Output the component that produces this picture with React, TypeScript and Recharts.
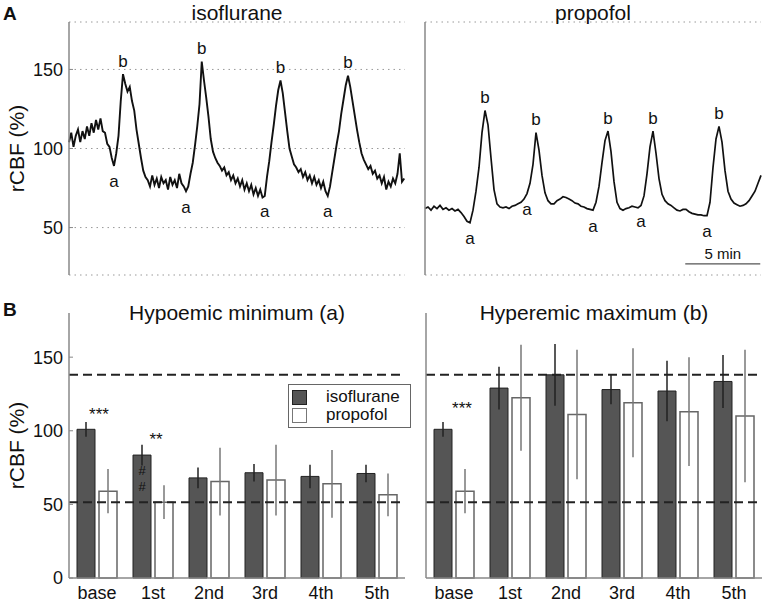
import React from "react";
import {
  LineChart, Line, XAxis, YAxis, CartesianGrid, ReferenceDot, ReferenceLine,
  BarChart, Bar, ErrorBar, Legend,
} from "recharts";

const FONT = "'Liberation Sans', Arial, Helvetica, sans-serif";

// ---- panel A: rCBF traces (one sample every step minutes) ----
const isoStep = 0.15;
const isoTrace = [
  104, 110, 101, 108, 112, 104, 111, 106, 114, 108, 116, 110, 118, 112, 119, 111, 110, 103, 101, 94, 89,
  97, 108, 130, 147, 141, 136, 139, 130, 124, 112, 103, 94, 86, 82,
  80, 76, 83, 77, 81, 75, 82, 78, 80, 74, 82, 77, 80, 75, 84, 78, 76, 73,
  76, 84, 91, 102, 114, 128,
  155, 143, 132, 120, 106, 98, 94, 91, 89, 86, 88, 83, 85, 80, 83, 78, 81, 76, 80, 74, 78, 73, 77, 71, 75, 70, 74, 69,
  70, 82, 92, 104, 115, 127, 137, 143,
  135, 123, 111, 100, 95, 90, 88, 85, 87, 82, 85, 80, 83, 78, 82, 77, 80, 75, 79, 73, 70, 76,
  85, 94, 103, 111, 122, 131, 140, 146,
  139, 130, 121, 112, 104, 97, 93, 90, 87, 89, 84, 86, 81, 83, 78, 82, 74, 79, 76, 81, 78, 84, 97, 79, 81,
];
const isoPeaks = [24, 59, 94, 124];
const isoTroughs = [20, 52, 87, 115];

const propStep = 0.2;
const propTrace = [
  62, 63, 61, 63.5, 62, 64, 61.5, 62.5, 61, 62, 60.5, 61.5, 59.5, 57, 54, 53,
  61, 73, 88, 110, 124, 115, 94, 74, 65,
  63, 62.5, 63, 62, 63.5, 64, 65, 66, 68, 71.5, 78, 90,
  110, 99, 83, 72, 67, 65, 65, 67, 68, 69.5, 69, 68, 67, 65.5, 65, 63.5, 63, 62, 61.5, 61,
  66, 76, 91, 105, 111, 98, 79, 66, 62, 61, 62, 62.5, 63.5, 63, 62.5, 64,
  70, 84, 101, 111, 97, 81, 71, 67, 65, 64, 62.5, 61, 60.5, 61.5, 61.5, 60, 59, 58.5, 58, 58, 57.5, 57.5,
  66, 88, 106, 114, 104, 86, 73, 68, 65.5, 64.5, 63.5, 64, 65, 67, 70, 73, 78, 83,
];
const propPeaks = [20, 37, 61, 76, 98];
const propTroughs = [15, 34, 56, 72, 94];

const traceTicks = [50, 100, 150];
const scaleBarStart = 17.35; // min
const scaleBarMinutes = 5;
const scaleBarLevel = 27;

// ---- panel B: mean rCBF ± SD ----
const phases = ["base", "1st", "2nd", "3rd", "4th", "5th"];
const minIso = [101, 83.5, 68, 71.5, 69, 71];
const minIsoErr = [5, 7, 7, 6, 8, 6];
const minProp = [59, 51.5, 65.5, 66.5, 64, 56.5];
const minPropErr = [15, 11.5, 23, 24, 23, 14.5];
const maxIso = [101, 129, 138, 128, 127, 133.5];
const maxIsoErr = [5, 14.5, 21, 10, 20.5, 18];
const maxProp = [59, 122.5, 111, 119, 113, 110];
const maxPropErr = [15, 36, 44, 37, 37, 45];
const barTicks = [0, 50, 100, 150];
const refLevels = [138, 51.5];

const toSeries = (vals: number[], step: number) =>
  vals.map((v, i) => ({ t: Math.round(i * step * 100) / 100, v }));

const isoData = toSeries(isoTrace, isoStep);
const propData = toSeries(propTrace, propStep);

const minData = phases.map((p, i) => ({ phase: p, iso: minIso[i], isoErr: minIsoErr[i], prop: minProp[i], propErr: minPropErr[i] }));
const maxData = phases.map((p, i) => ({ phase: p, iso: maxIso[i], isoErr: maxIsoErr[i], prop: maxProp[i], propErr: maxPropErr[i] }));

function textAt(text: string, dy: number, dx = 0, size = 17) {
  return (props: any) => {
    const vb = props.viewBox || {};
    const x = (vb.x ?? 0) + (vb.width ?? 0) / 2 + dx;
    const y = (vb.y ?? 0) + (vb.height ?? 0) / 2 + dy;
    return (
      <text x={x} y={y} textAnchor="middle" dominantBaseline="central" fontSize={size} fontFamily={FONT} fill="#111">
        {text}
      </text>
    );
  };
}

const yTitle = (props: any) => {
  const vb = props.viewBox || {};
  const cy = (vb.y ?? 0) + (vb.height ?? 0) / 2;
  return (
    <text transform={`translate(16,${cy}) rotate(-90)`} textAnchor="middle" dominantBaseline="central" fontSize={21} fontFamily={FONT} fill="#111">
      rCBF (%)
    </text>
  );
};

const axisStroke = { stroke: "#888", strokeWidth: 1.5 };

function TraceChart({ data, peaks, troughs, first }: any) {
  return (
    <LineChart
      width={first ? 410 : 355}
      height={290}
      data={data}
      margin={{ top: 22, right: first ? 5 : 4, bottom: 15, left: 0 }}
    >
      <CartesianGrid horizontal vertical={false} stroke="#999" strokeDasharray="1.5 4" />
      <XAxis dataKey="t" type="number" domain={[0, 22.4]} hide />
      <YAxis
        type="number"
        domain={[20, 180]}
        ticks={traceTicks}
        width={first ? 69 : 15}
        axisLine={axisStroke}
        tickLine={{ stroke: "#888" }}
        tickSize={-4}
        tickMargin={10}
        tick={first ? { fontSize: 18, fill: "#111", fontFamily: FONT } : false}
        label={first ? yTitle : undefined}
      />
      <Line type="linear" dataKey="v" stroke="#111" strokeWidth={first ? 1.9 : 1.7} dot={false} isAnimationActive={false} />
      {peaks.map((i: number) => (
        <ReferenceDot key={"b" + i} x={data[i].t} y={data[i].v} r={0} fill="none" stroke="none" label={textAt("b", -13)} />
      ))}
      {troughs.map((i: number) => (
        <ReferenceDot key={"a" + i} x={data[i].t} y={data[i].v} r={0} fill="none" stroke="none" label={textAt("a", 16)} />
      ))}
      {!first && (
        <ReferenceLine
          segment={[{ x: scaleBarStart, y: scaleBarLevel }, { x: scaleBarStart + scaleBarMinutes, y: scaleBarLevel }]}
          stroke="#555"
          strokeWidth={1.3}
        />
      )}
      {!first && (
        <ReferenceDot
          x={scaleBarStart + scaleBarMinutes / 2}
          y={scaleBarLevel}
          r={0}
          fill="none"
          stroke="none"
          label={textAt("5 min", -10, 0, 15)}
        />
      )}
    </LineChart>
  );
}

const LegendBox = (props: any) => {
  const items = props.payload || [];
  return (
    <div style={{ border: "1.5px solid #666", background: "#fff", width: 118, padding: "3px 0 3px 3px", fontFamily: FONT, fontSize: 17, color: "#111", textAlign: "left" }}>
      {items.map((it: any, k: number) => (
        <div key={k} style={{ display: "flex", alignItems: "center", height: 18 }}>
          <span style={{ width: 13, height: 13, background: k === 0 ? "#555" : "#fff", border: `1.3px solid ${k === 0 ? "#222" : "#777"}`, display: "inline-block" }} />
          <span style={{ marginLeft: 19, lineHeight: "18px" }}>{it.value}</span>
        </div>
      ))}
    </div>
  );
};

function BarPanel({ data, first }: any) {
  return (
    <BarChart
      width={first ? 410 : 355}
      height={313}
      data={data}
      margin={{ top: 23, right: first ? 5 : 3, bottom: 0, left: 0 }}
      barGap={4}
      barCategoryGap={8}
    >
      <XAxis
        dataKey="phase"
        height={25}
        axisLine={axisStroke}
        tickLine={false}
        tick={{ fontSize: 18, fill: "#111", fontFamily: FONT }}
      />
      <YAxis
        type="number"
        domain={[0, 180]}
        ticks={barTicks}
        width={first ? 69 : 16}
        axisLine={axisStroke}
        tickLine={{ stroke: "#888" }}
        tickSize={-4}
        tickMargin={10}
        tick={first ? { fontSize: 18, fill: "#111", fontFamily: FONT } : false}
        label={first ? yTitle : undefined}
      />
      <Bar dataKey="iso" name="isoflurane" fill="#555" stroke="#222" strokeWidth={1} barSize={18} isAnimationActive={false}>
        <ErrorBar dataKey="isoErr" width={0} stroke="#222" strokeWidth={1.5} direction="y" />
      </Bar>
      <Bar dataKey="prop" name="propofol" fill="#fff" stroke="#666" strokeWidth={1.5} barSize={18} isAnimationActive={false}>
        <ErrorBar dataKey="propErr" width={0} stroke="#777" strokeWidth={1.5} direction="y" />
      </Bar>
      {refLevels.map((y) => (
        <ReferenceLine key={y} y={y} stroke="#222" strokeWidth={2} strokeDasharray="9 5" />
      ))}
      {first ? (
        <>
          <ReferenceDot x="base" y={114} r={0} fill="none" stroke="none" label={textAt("***", 4, 2, 17)} />
          <ReferenceDot x="1st" y={97} r={0} fill="none" stroke="none" label={textAt("**", 4, 3, 17)} />
          <ReferenceDot x="1st" y={73} r={0} fill="none" stroke="none" label={textAt("#", 0, -11, 13)} />
          <ReferenceDot x="1st" y={62} r={0} fill="none" stroke="none" label={textAt("#", 0, -11, 13)} />
          <Legend
            layout="horizontal"
            verticalAlign="middle"
            align="center"
            content={LegendBox}
            wrapperStyle={{ position: "absolute", left: 288, top: 94, width: "auto", height: "auto" }}
          />
        </>
      ) : (
        <ReferenceDot x="base" y={117.6} r={0} fill="none" stroke="none" label={textAt("***", 4, 8, 17)} />
      )}
    </BarChart>
  );
}

const abs = (left: number, top: number): React.CSSProperties => ({ position: "absolute", left, top });

export default function App() {
  const title: React.CSSProperties = { fontFamily: FONT, fontSize: 21, color: "#111", textAlign: "center", lineHeight: "24px", whiteSpace: "nowrap" };
  const letter: React.CSSProperties = { fontFamily: FONT, fontSize: 19, fontWeight: "bold", color: "#111", lineHeight: "22px" };
  return (
    <div style={{ position: "absolute", left: 0, top: 0, width: 765, height: 603, background: "#fff", overflow: "hidden" }}>
      <div style={abs(0, 0)}>
        <TraceChart data={isoData} peaks={isoPeaks} troughs={isoTroughs} first />
      </div>
      <div style={abs(410, 0)}>
        <TraceChart data={propData} peaks={propPeaks} troughs={propTroughs} />
      </div>
      <div style={abs(0, 290)}>
        <BarPanel data={minData} first />
      </div>
      <div style={abs(410, 290)}>
        <BarPanel data={maxData} />
      </div>
      <div style={{ ...abs(3, 3), ...letter }}>A</div>
      <div style={{ ...abs(3, 299), ...letter }}>B</div>
      <div style={{ ...abs(69, 1), width: 336, ...title }}>isoflurane</div>
      <div style={{ ...abs(425, 1), width: 336, ...title }}>propofol</div>
      <div style={{ ...abs(69, 301), width: 336, ...title }}>Hypoemic minimum (a)</div>
      <div style={{ ...abs(426, 301), width: 336, ...title }}>Hyperemic maximum (b)</div>
    </div>
  );
}
